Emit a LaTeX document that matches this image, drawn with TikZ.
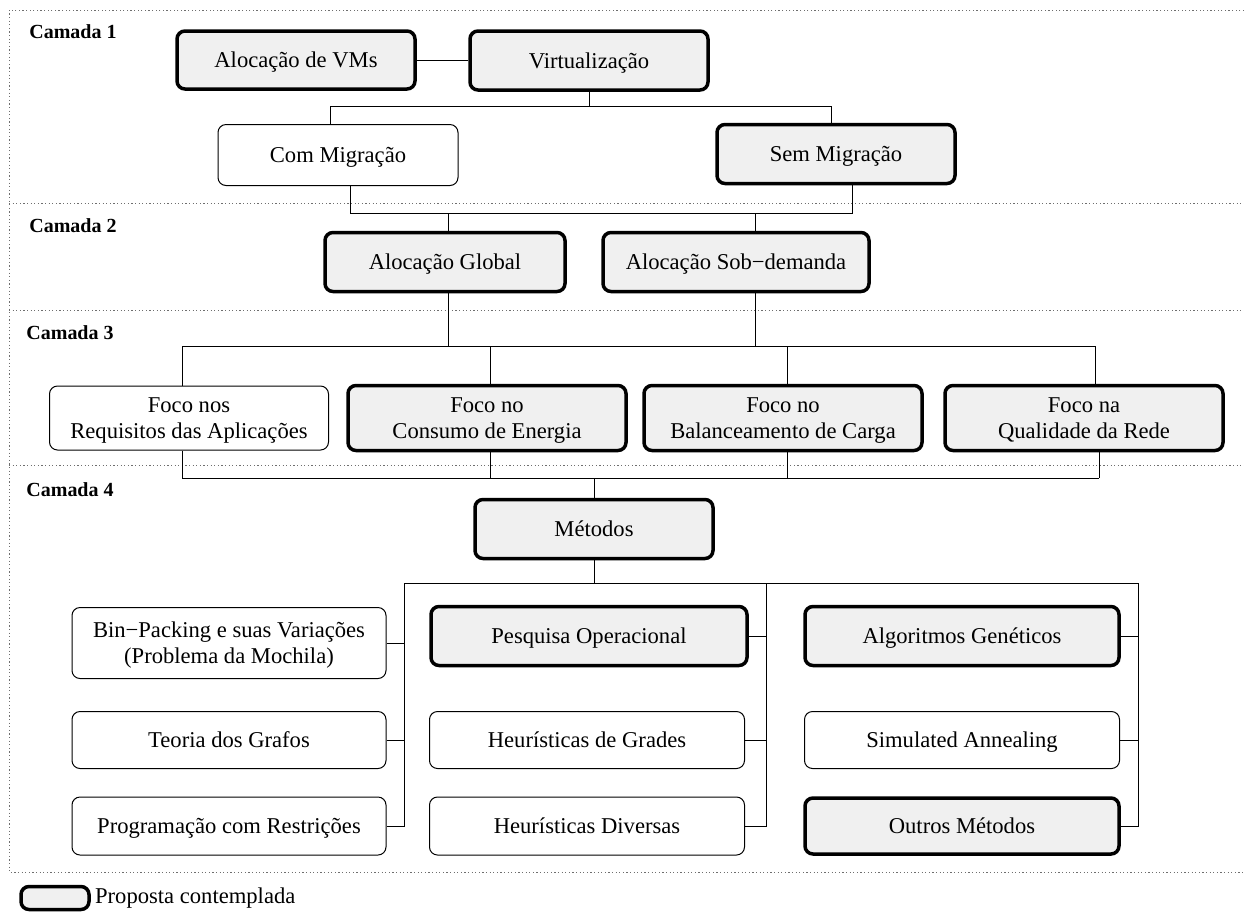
\documentclass[tikz,border=0pt]{standalone}
\usepackage{fontspec}
\setmainfont{Liberation Serif}
\usepackage{tikz}
\usetikzlibrary{positioning}
\definecolor{propfill}{RGB}{240,240,240}
\definecolor{layergray}{RGB}{110,110,110}
\newcommand{\boxfont}{\fontsize{11.3}{13}\selectfont}
\newcommand{\camfont}{\fontsize{10}{11}\selectfont\bfseries}

\begin{document}
\begin{tikzpicture}[x=0.5pt,y=-0.5pt,
          base/.style={draw,rounded corners=4pt,line width=0.5pt,
                       align=center,font=\boxfont,inner sep=0pt,
                       text depth=0pt},
          prop/.style={base,line width=1.75pt,fill=propfill},
          link/.style={line width=0.5pt},
          layer/.style={layergray,line width=0.5pt,
                        dash pattern=on 0.6pt off 1.2pt},
          cam/.style={anchor=west,font=\camfont,inner sep=0pt}]
        \useasboundingbox (0,0) rectangle (1244,912);
        % camadas
        \draw[layer] (1244,10) -| (9,872) -- (1244,872);
        \draw[layer] (9,203) -- (1244,203);
        \draw[layer] (9,310) -- (1244,310);
        \draw[layer] (9,465) -- (1244,465);
        \node[cam](cam1) at (29,32){Camada 1};
        \node[cam](cam2) at (29,226){Camada 2};
        \node[cam](cam3) at (26,333){Camada 3};
        \node[cam](cam4) at (26,490){Camada 4};
        % camada 1
        \node[prop,minimum width=119pt,minimum height=29pt](vms) at (296,60){Alocação de VMs};
        \node[prop,minimum width=119pt,minimum height=29.5pt](virt) at (589,60.5){Virtualização};
        \node[base,minimum width=120pt,minimum height=30.5pt](com) at (338,155){Com Migração};
        \node[prop,minimum width=119pt,minimum height=29.5pt](sem) at (836,154){Sem Migração};
        \draw[link](vms.east)--(vms.east -| virt.west);
        \coordinate (b0) at (589,106);
        \coordinate (b1) at (330,106);
        \coordinate (b2) at (831,106);
        \draw[link](virt)--(b0);
        \draw[link](b1)--(b2);
        \draw[link](b1)--(com.north -| b1);
        \draw[link](b2)--(sem.north -| b2);
        % camada 2
        \node[prop,minimum width=120pt,minimum height=29.5pt](glob) at (445,262){Alocação Global};
        \node[prop,minimum width=133pt,minimum height=29.5pt](sob) at (736,262){Alocação Sob−demanda};
        \coordinate (c1) at (350,213);
        \coordinate (c2) at (852,213);
        \coordinate (c3) at (448,213);
        \coordinate (c4) at (755,213);
        \draw[link](com.south -| c1)--(c1)--(c2)--(sem.south -| c2);
        \draw[link](c3)--(glob.north -| c3);
        \draw[link](c4)--(sob.north -| c4);
        % camada 3
        \node[base,minimum width=139.5pt,minimum height=32pt](req) at (189,418){Foco nos\\Requisitos das Aplicações};
        \node[prop,minimum width=139pt,minimum height=32.5pt](cons) at (487,418){Foco no\\Consumo de Energia};
        \node[prop,minimum width=139pt,minimum height=32.5pt](bal) at (783,418){Foco no\\Balanceamento de Carga};
        \node[prop,minimum width=139pt,minimum height=32.5pt](qual) at (1084,418){Foco na\\Qualidade da Rede};
        \coordinate (d1) at (182,346);
        \coordinate (d2) at (490,346);
        \coordinate (d3) at (787,346);
        \coordinate (d4) at (1095,346);
        \coordinate (d5) at (448,346);
        \coordinate (d6) at (755,346);
        \draw[link](d1)--(d4);
        \draw[link](glob.south -| d5)--(d5);
        \draw[link](sob.south -| d6)--(d6);
        \draw[link](d1)--(req.north -| d1);
        \draw[link](d2)--(cons.north -| d2);
        \draw[link](d3)--(bal.north -| d3);
        \draw[link](d4)--(qual.north -| d4);
        % camada 4
        \node[prop,minimum width=119pt,minimum height=29.5pt](met) at (594,529){Métodos};
        \coordinate (e1) at (182,478);
        \coordinate (e2) at (490,478);
        \coordinate (e3) at (787,478);
        \coordinate (e4) at (1099,478);
        \coordinate (e5) at (594,478);
        \draw[link](e1)--(e4);
        \draw[link](req.south -| e1)--(e1);
        \draw[link](cons.south -| e2)--(e2);
        \draw[link](bal.south -| e3)--(e3);
        \draw[link](qual.south -| e4)--(e4);
        \draw[link](e5)--(met);
        \node[base,minimum width=157pt,minimum height=35.5pt](bin) at (229,643){Bin−Packing e suas Variações\\(Problema da Mochila)};
        \node[base,minimum width=157pt,minimum height=28.5pt](grafo) at (229,740){Teoria dos Grafos};
        \node[base,minimum width=157pt,minimum height=29pt](restr) at (229,826){Programação com Restrições};
        \node[prop,minimum width=158pt,minimum height=29.5pt](pesq) at (589,636){Pesquisa Operacional};
        \node[base,minimum width=157.5pt,minimum height=28.5pt](grades) at (587,740){Heurísticas de Grades};
        \node[base,minimum width=157.5pt,minimum height=29pt](divers) at (587,826){Heurísticas Diversas};
        \node[prop,minimum width=157pt,minimum height=29.5pt](gen) at (962,636){Algoritmos Genéticos};
        \node[base,minimum width=157.5pt,minimum height=28.5pt](anneal) at (962,740){Simulated Annealing};
        \node[prop,minimum width=157pt,minimum height=28pt](outros) at (962,826){Outros Métodos};
        \coordinate (f0) at (594,583);
        \coordinate (f1) at (404,583);
        \coordinate (f2) at (766,583);
        \coordinate (f3) at (1138,583);
        \draw[link](met)--(f0);
        \draw[link](f1)--(f3);
        \draw[link](f1)--(restr.east -| f1)--(restr.east);
        \draw[link](bin.east)--(bin.east -| f1);
        \draw[link](grafo.east)--(grafo.east -| f1);
        \draw[link](f2)--(divers.east -| f2)--(divers.east);
        \draw[link](pesq.east)--(pesq.east -| f2);
        \draw[link](grades.east)--(grades.east -| f2);
        \draw[link](f3)--(outros.east -| f3)--(outros.east);
        \draw[link](gen.east)--(gen.east -| f3);
        \draw[link](anneal.east)--(anneal.east -| f3);
        % legenda
        \node[prop,minimum width=34pt,minimum height=11.5pt](leg) at (55,898){};
        \node[right=2pt of leg,font=\boxfont,inner sep=0pt](legtxt){Proposta contemplada};
      \end{tikzpicture}
\end{document}
